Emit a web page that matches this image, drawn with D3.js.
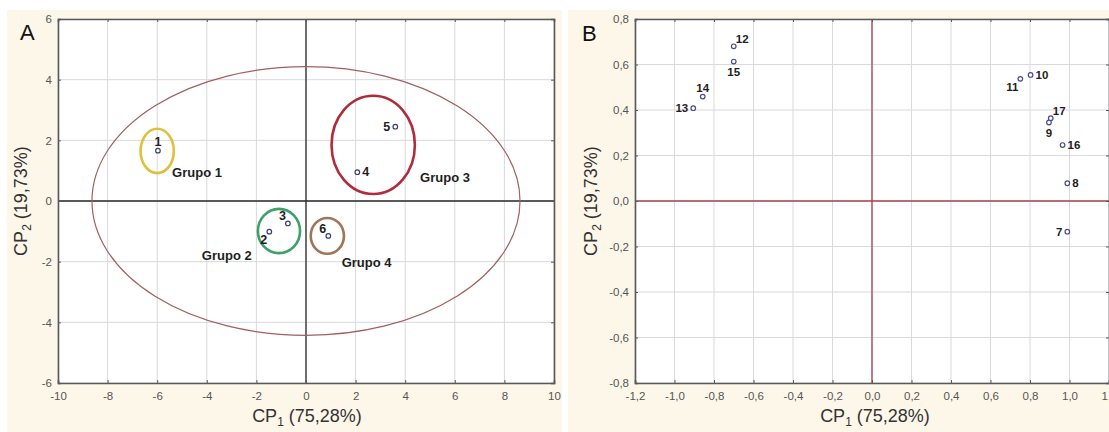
<!DOCTYPE html>
<html><head><meta charset="utf-8">
<script src="https://cdn.jsdelivr.net/npm/d3@7"></script>
<style>
html,body{margin:0;padding:0;background:#fff;}
svg{display:block;font-family:"Liberation Sans",Arial,sans-serif;}
</style></head>
<body>
<svg id="chart" width="1109" height="432"></svg>
<script>
// ---------- Panel A data ----------
const aIds = ["1","2","3","4","5","6"];
const aX = [-5.97, -1.48, -0.73, 2.07, 3.6, 0.9];
const aY = [1.66, -1.01, -0.74, 0.95, 2.45, -1.15];
const aLabelPos = ["top","bottomleft","topleft","right","left","topleft"];
const aTicksX = [-10,-8,-6,-4,-2,0,2,4,6,8,10];
const aTicksY = [-6,-4,-2,0,2,4,6];
// group ellipses (centre, radii in data units)
const groupNames = ["Grupo 1","Grupo 2","Grupo 3","Grupo 4"];
const groupCx = [-6.0, -1.09, 2.71, 0.86];
const groupCy = [1.65, -0.99, 1.85, -1.15];
const groupRx = [0.67, 0.85, 1.68, 0.67];
const groupRy = [0.73, 0.73, 1.62, 0.59];
const groupColors = ["#dcc23c","#3ea06a","#b02c3a","#a0765a"];
const groupLabelX = [-5.4, -4.2, 4.6, 1.44];
const groupLabelY = [0.78, -1.95, 0.63, -2.16];
// big confidence ellipse
const bigEllipse = {cx:0, cy:0, rx:8.63, ry:4.43};

// ---------- Panel B data ----------
const bIds = ["7","8","9","10","11","12","13","14","15","16","17"];
const bX = [0.989, 0.989, 0.896, 0.803, 0.751, -0.70, -0.905, -0.857, -0.70, 0.965, 0.905];
const bY = [-0.135, 0.078, 0.345, 0.554, 0.537, 0.68, 0.408, 0.459, 0.613, 0.246, 0.364];
const bLabelPos = ["left","right","bottom","right","bottomleft","topright","left","top","bottom","right","topright"];
const bTicksX = [-1.2,-1.0,-0.8,-0.6,-0.4,-0.2,0.0,0.2,0.4,0.6,0.8,1.0,1.2];
const bTicksY = [-0.8,-0.6,-0.4,-0.2,0.0,0.2,0.4,0.6,0.8];

const svg = d3.select("#chart");
const cream = "#fdf7ea";

svg.append("rect").attr("x",7).attr("y",10).attr("width",555).attr("height",422).attr("fill",cream);
svg.append("rect").attr("x",568).attr("y",10).attr("width",541).attr("height",422).attr("fill",cream);

function frame(g, x, y, ticksX, ticksY, fmt, zeroColor){
  const [x0,x1] = x.range(), [y0,y1] = y.range();
  g.append("rect").attr("x",x0).attr("y",y1).attr("width",x1-x0).attr("height",y0-y1).attr("fill","#fff");
  g.selectAll(".gx").data(ticksX).join("line")
    .attr("x1",d=>x(d)).attr("x2",d=>x(d)).attr("y1",y1).attr("y2",y0)
    .attr("stroke","#d9d9de").attr("stroke-width",1);
  g.selectAll(".gy").data(ticksY).join("line")
    .attr("y1",d=>y(d)).attr("y2",d=>y(d)).attr("x1",x0).attr("x2",x1)
    .attr("stroke","#d9d9de").attr("stroke-width",1);
  g.append("line").attr("x1",x(0)).attr("x2",x(0)).attr("y1",y1).attr("y2",y0).attr("stroke",zeroColor).attr("stroke-width",1.3);
  g.append("line").attr("y1",y(0)).attr("y2",y(0)).attr("x1",x0).attr("x2",x1).attr("stroke",zeroColor).attr("stroke-width",1.3);
  const ax = d3.axisBottom(x).tickValues(ticksX).tickSize(-3).tickPadding(9).tickFormat(fmt);
  const ay = d3.axisLeft(y).tickValues(ticksY).tickSize(-3).tickPadding(6).tickFormat(fmt);
  const gx = g.append("g").attr("transform",`translate(0,${y0})`).call(ax);
  const gy = g.append("g").attr("transform",`translate(${x0},0)`).call(ay);
  const gt = g.append("g").attr("transform",`translate(0,${y1})`).call(d3.axisTop(x).tickValues(ticksX).tickSize(-3).tickFormat(""));
  const gr = g.append("g").attr("transform",`translate(${x1},0)`).call(d3.axisRight(y).tickValues(ticksY).tickSize(-3).tickFormat(""));
  [gx,gy,gt,gr].forEach(a=>{
    a.select(".domain").attr("stroke","#5a5a5a").attr("stroke-width",1.6);
    a.selectAll(".tick line").attr("stroke","#5a5a5a");
    a.selectAll("text").attr("fill","#555").attr("font-size",11.5).attr("font-family","'Liberation Sans',Arial,sans-serif");
  });
}

function pointLabel(sel, px, py, pos, size){
  let dx=0, dy=0, anchor="middle";
  switch(pos){
    case "top": dy=-5; break;
    case "bottom": dy=14; break;
    case "left": dx=-5; dy=4; anchor="end"; break;
    case "right": dx=5; dy=4; anchor="start"; break;
    case "topleft": dx=-2; dy=-3; anchor="end"; break;
    case "topright": dx=2; dy=-3; anchor="start"; break;
    case "bottomleft": dx=-2; dy=12; anchor="end"; break;
  }
  return sel.append("text").attr("x",px+dx).attr("y",py+dy).attr("text-anchor",anchor)
    .attr("font-size",size).attr("font-weight","bold").attr("fill","#1e1e1e");
}

function titles(g, cx, cy, ytx, yty){
  const t = g.append("text").attr("x",cx).attr("y",cy).attr("text-anchor","middle")
    .attr("font-size",18).attr("fill","#333");
  t.append("tspan").text("CP");
  t.append("tspan").attr("font-size",12).attr("dy",4).text("1");
  t.append("tspan").attr("dy",-4).text(" (75,28%)");
  const t2 = g.append("text").attr("transform",`translate(${ytx},${yty}) rotate(-90)`).attr("text-anchor","middle")
    .attr("font-size",18).attr("fill","#333");
  t2.append("tspan").text("CP");
  t2.append("tspan").attr("font-size",12).attr("dy",4).text("2");
  t2.append("tspan").attr("dy",-4).text(" (19,73%)");
}

const fmtA = d => String(d);
const fmtB = d => d3.format(".1f")(Math.abs(d) < 1e-9 ? 0 : d).replace(".",",").replace("\u2212","-");

// ---------- Panel A ----------
{
  const g = svg.append("g");
  const x = d3.scaleLinear().domain([-10,10]).range([58,554]);
  const y = d3.scaleLinear().domain([-6,6]).range([383,19]);
  frame(g, x, y, aTicksX, aTicksY, fmtA, "#2a2a2a");
  g.append("ellipse").attr("cx",x(bigEllipse.cx)).attr("cy",y(bigEllipse.cy))
    .attr("rx",x(bigEllipse.rx)-x(0)).attr("ry",y(0)-y(bigEllipse.ry))
    .attr("fill","none").attr("stroke","#a0605e").attr("stroke-width",1.2);
  groupNames.forEach((n,i)=>{
    g.append("ellipse").attr("cx",x(groupCx[i])).attr("cy",y(groupCy[i]))
      .attr("rx",x(groupRx[i])-x(0)).attr("ry",y(0)-y(groupRy[i]))
      .attr("fill","none").attr("stroke",groupColors[i]).attr("stroke-width",2.6);
    g.append("text").attr("x",x(groupLabelX[i])).attr("y",y(groupLabelY[i]))
      .attr("font-size",13).attr("font-weight","bold").attr("fill","#1e1e1e")
      .attr("text-anchor","start").text(n);
  });
  aIds.forEach((id,i)=>{
    const px=x(aX[i]), py=y(aY[i]);
    g.append("circle").attr("cx",px).attr("cy",py).attr("r",2.3).attr("fill","#fff").attr("stroke","#3c3c7a").attr("stroke-width",1.2);
    pointLabel(g, px, py, aLabelPos[i], 12.5).text(id);
  });
  g.append("text").attr("x",20).attr("y",40).attr("font-size",22).attr("fill","#111").text("A");
  titles(g, 307, 422, 27, 201);
}

// ---------- Panel B ----------
{
  const g = svg.append("g");
  const x = d3.scaleLinear().domain([-1.2,1.2]).range([635,1109]);
  const y = d3.scaleLinear().domain([-0.8,0.8]).range([383,19]);
  frame(g, x, y, bTicksX, bTicksY, fmtB, "#a8404e");
  bIds.forEach((id,i)=>{
    const px=x(bX[i]), py=y(bY[i]);
    g.append("circle").attr("cx",px).attr("cy",py).attr("r",2.3).attr("fill","#fff").attr("stroke","#4a4a8e").attr("stroke-width",1.2);
    pointLabel(g, px, py, bLabelPos[i], 11.5).text(id);
  });
  g.append("text").attr("x",582).attr("y",41).attr("font-size",22).attr("fill","#111").text("B");
  titles(g, 875, 422, 597, 201);
}
</script>
</body></html>
